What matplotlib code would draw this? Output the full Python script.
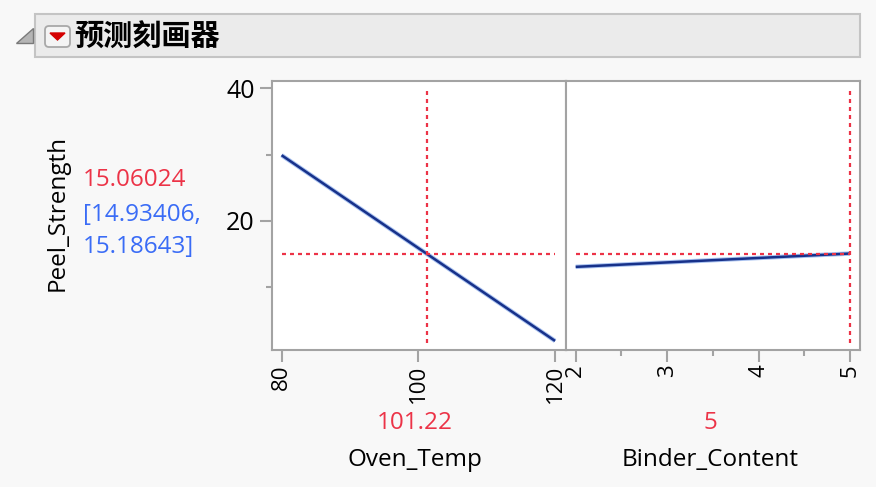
import matplotlib.pyplot as plt
from matplotlib.patches import Rectangle, Polygon, FancyBboxPatch

plt.rcParams['font.family'] = ['Open Sans', 'DejaVu Sans']

# valores
oven_temp = [80, 120]
peel_oven = [29.9, 1.87]
binder = [2, 5]
peel_binder = [13.05, 15.06]

oven_actual = 101.22
binder_actual = 5
pred = 15.06024
ci_low, ci_high = 14.93406, 15.18643
ref_top, ref_bot = 39.6, 1.6

oven_ticks = [80, 100, 120]
binder_ticks = [2, 3, 4, 5]
y_ticks = [20, 40]

W, H = 876, 487
ROJO = '#ec3347'
AZUL = '#3a6cf6'
GRIS = '#a3a3a3'
LINEA = '#17318a'
HALO = '#a9c2f0'

fig = plt.figure(figsize=(W / 100, H / 100), dpi=100, facecolor='#f8f8f8')


def fx(x):
    return x / W


def fy(y):
    return 1 - y / H


# fondo para la cabecera (en pixeles)
bg = fig.add_axes([0, 0, 1, 1], zorder=0)
bg.set_xlim(0, W)
bg.set_ylim(H, 0)
bg.axis('off')
bg.add_patch(Rectangle((35, 14), 825, 43, facecolor='#ebebeb', edgecolor='#c4c4c4', lw=1.5))
bg.add_patch(Polygon([(16, 43), (33, 43), (33, 28)], closed=True, facecolor='#b5b5b5', edgecolor='#7a7a7a', lw=1))
bg.add_patch(FancyBboxPatch((45, 26), 25, 21, boxstyle='round,pad=0,rounding_size=4',
                            facecolor='#f4f4f4', edgecolor='#a8a8a8', lw=1.3))
bg.add_patch(Polygon([(50, 33), (65, 33), (57.5, 40)], closed=True, facecolor='#d40000', edgecolor='#d40000'))
bg.text(74, 37, '预测刻画器', fontsize=21, fontweight='bold', va='center', ha='left',
        family=['Noto Sans CJK SC', 'DejaVu Sans'])

ax1 = fig.add_axes([fx(272), fy(350), fx(566 - 272), (350 - 81) / H], zorder=1)
ax2 = fig.add_axes([fx(566), fy(350), fx(860 - 566), (350 - 81) / H], zorder=1, sharey=ax1)

dash = (0, (1.8, 1.8))

# panel izquierdo
ax1.plot(oven_temp, peel_oven, color=HALO, lw=3.2, solid_capstyle='butt')
ax1.plot(oven_temp, peel_oven, color=LINEA, lw=1.8, solid_capstyle='butt')
ax1.plot([oven_actual, oven_actual], [ref_bot, ref_top], color=ROJO, lw=1.6, ls=dash)
ax1.plot([oven_temp[0], oven_temp[-1]], [pred, pred], color=ROJO, lw=1.6, ls=dash)
ax1.set_xlim(78.6, 121.6)
ax1.set_ylim(0.5, 41.1)
ax1.set_xticks(oven_ticks)
ax1.set_yticks(y_ticks)
ax1.set_yticks([10, 30], minor=True)

# panel derecho
ax2.plot(binder, peel_binder, color=HALO, lw=3.2, solid_capstyle='butt')
ax2.plot(binder, peel_binder, color=LINEA, lw=1.8, solid_capstyle='butt')
ax2.plot([binder_actual, binder_actual], [ref_bot, ref_top], color=ROJO, lw=1.6, ls=dash)
ax2.plot([binder[0], binder[-1]], [pred, pred], color=ROJO, lw=1.6, ls=dash)
ax2.set_xlim(1.894, 5.11)
ax2.set_xticks(binder_ticks)
ax2.set_xticks([2.5, 3.5, 4.5], minor=True)

for ax in (ax1, ax2):
    ax.set_facecolor('white')
    for s in ax.spines.values():
        s.set_color(GRIS)
        s.set_linewidth(1.5)
    ax.tick_params(axis='x', which='major', length=8.5, width=1.5, color=GRIS,
                   labelsize=16, labelrotation=90, pad=2)
    ax.tick_params(axis='x', which='minor', length=4, width=1.5, color=GRIS)

ax1.tick_params(axis='y', which='major', length=8.5, width=1.5, color=GRIS, labelsize=18, pad=4)
ax1.tick_params(axis='y', which='minor', length=4, width=1.5, color=GRIS)
ax2.tick_params(axis='y', which='both', left=False, labelleft=False)

# textos
fs = 17.5
fig.text(fx(58), fy(213), 'Peel_Strength', rotation=90, fontsize=fs, ha='center', va='center')
fig.text(fx(83), fy(180), f'{pred:.5f}', color=ROJO, fontsize=fs, ha='left', va='center')
fig.text(fx(83), fy(215), f'[{ci_low:.5f},', color=AZUL, fontsize=fs, ha='left', va='center')
fig.text(fx(83), fy(247), f'{ci_high:.5f}]', color=AZUL, fontsize=fs, ha='left', va='center')

fig.text(fx(415), fy(423), f'{oven_actual:.2f}', color=ROJO, fontsize=fs, ha='center', va='center')
fig.text(fx(415), fy(460), 'Oven_Temp', fontsize=fs, ha='center', va='center')
fig.text(fx(710), fy(423), f'{binder_actual}', color=ROJO, fontsize=fs, ha='center', va='center')
fig.text(fx(710), fy(460), 'Binder_Content', fontsize=fs, ha='center', va='center')

fig.savefig('out.png', dpi=100, facecolor=fig.get_facecolor())
